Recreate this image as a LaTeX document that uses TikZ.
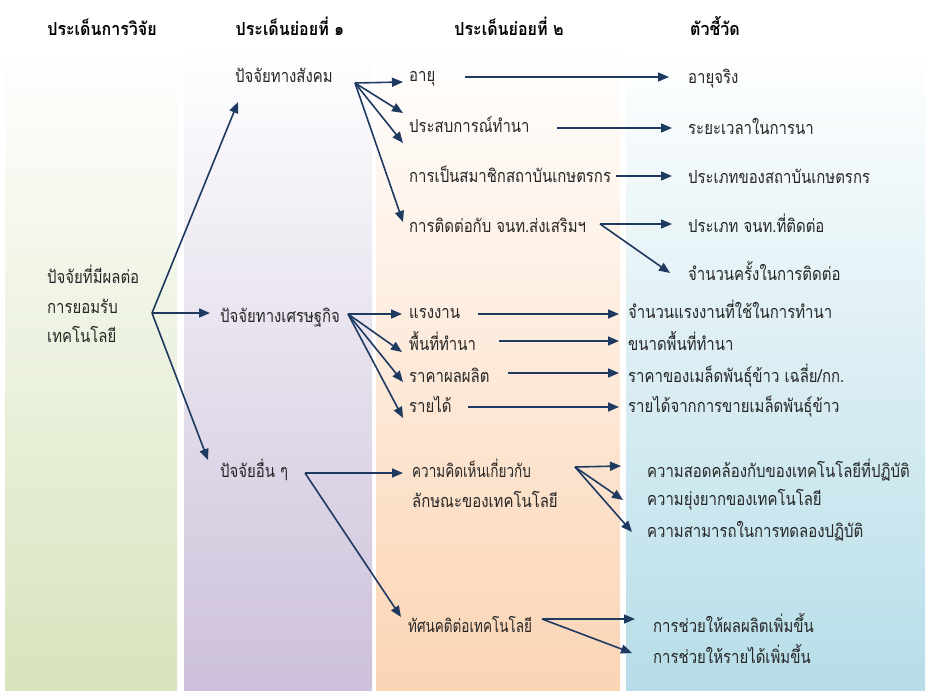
\documentclass[tikz,border=0pt]{standalone}
\usepackage{fontspec}
\setmainfont{Loma}[Script=Thai]
\newfontfamily\bodyfont{Loma}[Script=Thai,FakeStretch=0.83]
\newfontfamily\narrowfont{Loma}[Script=Thai,FakeStretch=0.75]
\newfontfamily\headfont{Loma}[Script=Thai,FakeStretch=0.89]
\usetikzlibrary{arrows.meta}
\definecolor{navy}{HTML}{1F3A60}
\definecolor{txt}{HTML}{262626}
\definecolor{bandgreen}{HTML}{D7E4BD}
\definecolor{bandpurple}{HTML}{CCC0DA}
\definecolor{bandorange}{HTML}{FBD4B4}
\definecolor{bandblue}{HTML}{B7DDE8}
\newcommand{\bodyfs}{\bodyfont\fontsize{18}{20}\selectfont}
\newcommand{\narrowfs}{\narrowfont\fontsize{18}{20}\selectfont}
\newcommand{\headfs}{\headfont\fontsize{18}{20}\selectfont\bfseries}
\tikzset{
  lbl/.style={anchor=base west, inner sep=0pt, text=txt, font=\bodyfs},
  lblnarrow/.style={lbl, font=\narrowfs},
  hdr/.style={anchor=base, inner sep=0pt, text=black, font=\headfs},
  arr/.style={draw=navy, line width=1.6pt, -{Triangle[length=11pt,width=9pt]}},
  band/.style={draw=none}
}
\begin{document}
\begin{tikzpicture}[x=1pt,y=-1pt]
\path[use as bounding box] (0,0) rectangle (928,690);
\fill[white] (0,0) rectangle (928,690);
% column bands
\shade[band, top color=white, bottom color=bandgreen]  (5,45) rectangle (177,690);
\shade[band, top color=white, bottom color=bandpurple] (184,45) rectangle (372,690);
\shade[band, top color=white, bottom color=bandorange] (376,45) rectangle (620,690);
\shade[band, top color=white, bottom color=bandblue]   (626,45) rectangle (925,690);

% headers
\node[hdr] (h1) at (102,36) {ประเด็นการวิจัย};
\node[hdr] (h2) at (290,36) {ประเด็นย่อยที่ ๑};
\node[hdr] (h3) at (509,36) {ประเด็นย่อยที่ ๒};
\node[hdr] (h4) at (715,36) {ตัวชี้วัด};

% research issue
\node[lbl] (r1) at (47,283) {ปัจจัยที่มีผลต่อ};
\node[lbl] (r2) at (47,313) {การยอมรับ};
\node[lbl] (r3) at (47,342) {เทคโนโลยี};

% sub-issue 1
\node[lbl] (soc) at (235,83) {ปัจจัยทางสังคม};
\node[lbl] (eco) at (220,322) {ปัจจัยทางเศรษฐกิจ};
\node[lbl] (oth) at (220,477) {ปัจจัยอื่น ๆ};

% sub-issue 2
\node[lbl] (age)  at (409,82)  {อายุ};
\node[lbl] (exp)  at (409,132) {ประสบการณ์ทำนา};
\node[lbl] (mem)  at (409,182) {การเป็นสมาชิกสถาบันเกษตรกร};
\node[lbl] (con)  at (409,232) {การติดต่อกับ จนท.ส่งเสริมฯ};
\node[lbl] (lab)  at (409,318) {แรงงาน};
\node[lbl] (area) at (409,350) {พื้นที่ทำนา};
\node[lbl] (pri)  at (409,382) {ราคาผลผลิต};
\node[lbl] (inc)  at (409,412) {รายได้};
\node[lblnarrow] (opa)  at (412,477) {ความคิดเห็นเกี่ยวกับ};
\node[lbl] (opb)  at (412,507) {ลักษณะของเทคโนโลยี};
\node[lblnarrow] (att)  at (408,632) {ทัศนคติต่อเทคโนโลยี};

% indicators
\node[lbl] (i1)  at (688,84)  {อายุจริง};
\node[lbl] (i2)  at (688,135) {ระยะเวลาในการนา};
\node[lbl] (i3)  at (688,183) {ประเภทของสถาบันเกษตรกร};
\node[lbl] (i4)  at (688,232) {ประเภท จนท.ที่ติดต่อ};
\node[lbl] (i5)  at (688,280) {จำนวนครั้งในการติดต่อ};
\node[lbl] (i6)  at (628,318) {จำนวนแรงงานที่ใช้ในการทำนา};
\node[lbl] (i7)  at (628,350) {ขนาดพื้นที่ทำนา};
\node[lbl] (i8)  at (628,382) {ราคาของเมล็ดพันธุ์ข้าว เฉลี่ย/กก.};
\node[lbl] (i9)  at (628,412) {รายได้จากการขายเมล็ดพันธุ์ข้าว};
\node[lbl] (i10) at (647,477) {ความสอดคล้องกับของเทคโนโลยีที่ปฏิบัติ};
\node[lbl] (i11) at (647,505) {ความยุ่งยากของเทคโนโลยี};
\node[lbl] (i12) at (647,537) {ความสามารถในการทดลองปฏิบัติ};
\node[lbl] (i13) at (653,632) {การช่วยให้ผลผลิตเพิ่มขึ้น};
\node[lbl] (i14) at (653,663) {การช่วยให้รายได้เพิ่มขึ้น};

% connector ends
\coordinate (rO)   at (152,313);
\coordinate (socT) at (238,102);
\coordinate (ecoT) at (210,313);
\coordinate (othT) at (208,460);

\coordinate (socO) at (355,83);
\coordinate (ageT) at (403,82);
\coordinate (expT) at (403,113);
\coordinate (exqT) at (403,143);
\coordinate (conT) at (403,222);

\coordinate (ageO) at (465,77);  \coordinate (i1T) at (669,77);
\coordinate (expO) at (557,128); \coordinate (i2T) at (672,128);
\coordinate (memO) at (616,176); \coordinate (i3T) at (672,176);
\coordinate (conO) at (600,224); \coordinate (i4T) at (672,224);
\coordinate (i5T) at (670,273);

\coordinate (ecoO) at (348,314);
\coordinate (labT) at (402,314);
\coordinate (areaT) at (402,352);
\coordinate (priT) at (403,382);
\coordinate (incT) at (403,418);

\coordinate (labO) at (478,314);  \coordinate (i6T) at (619,314);
\coordinate (areaO) at (499,341); \coordinate (i7T) at (619,341);
\coordinate (priO) at (508,373);  \coordinate (i8T) at (619,373);
\coordinate (incO) at (468,407);  \coordinate (i9T) at (619,407);

\coordinate (othO) at (305,473);
\coordinate (opT)  at (403,473);
\coordinate (attT) at (401,617);

\coordinate (opO)  at (575,467);
\coordinate (i10T) at (621,466);
\coordinate (i11T) at (623,500);
\coordinate (i12T) at (632,532);

\coordinate (attO) at (542,619);
\coordinate (i13T) at (635,619);
\coordinate (i14T) at (632,653);

% connectors
\draw[arr] (rO) -- (socT);
\draw[arr] (rO) -- (ecoT);
\draw[arr] (rO) -- (othT);

\draw[arr] (socO) -- (ageT);
\draw[arr] (socO) -- (expT);
\draw[arr] (socO) -- (exqT);
\draw[arr] (socO) -- (conT);

\draw[arr] (ageO) -- (i1T);
\draw[arr] (expO) -- (i2T);
\draw[arr] (memO) -- (i3T);
\draw[arr] (conO) -- (i4T);
\draw[arr] (conO) -- (i5T);

\draw[arr] (ecoO) -- (labT);
\draw[arr] (ecoO) -- (areaT);
\draw[arr] (ecoO) -- (priT);
\draw[arr] (ecoO) -- (incT);

\draw[arr] (labO) -- (i6T);
\draw[arr] (areaO) -- (i7T);
\draw[arr] (priO) -- (i8T);
\draw[arr] (incO) -- (i9T);

\draw[arr] (othO) -- (opT);
\draw[arr] (othO) -- (attT);

\draw[arr] (opO) -- (i10T);
\draw[arr] (opO) -- (i11T);
\draw[arr] (opO) -- (i12T);

\draw[arr] (attO) -- (i13T);
\draw[arr] (attO) -- (i14T);
\end{tikzpicture}
\end{document}
